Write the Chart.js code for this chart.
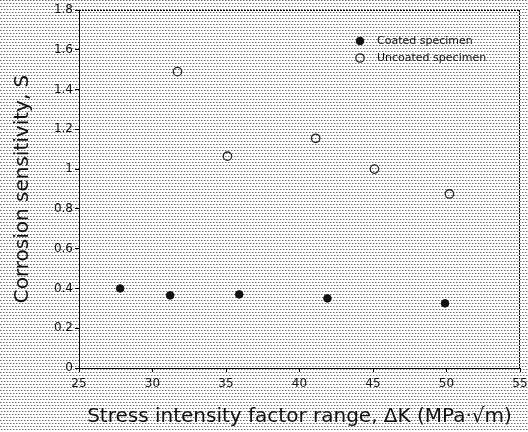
<!DOCTYPE html>
<html>
<head>
<meta charset="utf-8">
<script src="https://cdn.jsdelivr.net/npm/chart.js@4"></script>
<style>
  html, body { margin: 0; padding: 0; }
  body { width: 528px; height: 432px; overflow: hidden; }
  #wrap { width: 528px; height: 432px; }
</style>
</head>
<body>
<div id="wrap"><canvas id="chart" width="528" height="432"></canvas></div>
<script>
// values
const coatedDK = [27.8, 31.2, 35.9, 41.9, 49.9];
const coatedS = [0.40, 0.365, 0.37, 0.35, 0.325];
const uncoatedDK = [31.7, 35.1, 41.1, 45.1, 50.2];
const uncoatedS = [1.49, 1.065, 1.155, 1.0, 0.875];
const seriesNames = ['Coated specimen', 'Uncoated specimen'];

const FONT = '"DejaVu Sans", Verdana, sans-serif';

// halftone-looking background, like the scan
function makeScreen() {
    const c = document.createElement('canvas');
    c.width = 6; c.height = 6;
    const g = c.getContext('2d');
    g.fillStyle = '#ffffff';
    g.fillRect(0, 0, 6, 6);
    g.fillStyle = '#6a6a6a';
    [[0, 0], [3, 0], [1, 3], [4, 3]].forEach(([x, y]) => g.fillRect(x, y, 1, 1));
    g.fillStyle = '#bdbdbd';
    [[1, 0], [4, 0], [2, 3], [5, 3]].forEach(([x, y]) => g.fillRect(x, y, 1, 1));
    return c.toDataURL();
}
document.body.style.background = `url(${makeScreen()})`;

const toPoints = (xs, ys) => xs.map((x, i) => ({ x, y: ys[i] }));

const frameAndLegend = {
    id: 'frameAndLegend',
    afterDraw(chart) {
        const { ctx, chartArea: a } = chart;
        ctx.save();
        ctx.strokeStyle = '#000';
        ctx.lineWidth = 1;
        ctx.setLineDash([2, 1]);
        ctx.beginPath();
        ctx.moveTo(a.left, a.top + 0.5);
        ctx.lineTo(a.right, a.top + 0.5);
        ctx.moveTo(a.right - 0.5, a.top);
        ctx.lineTo(a.right - 0.5, a.bottom);
        ctx.stroke();
        ctx.setLineDash([]);

        // legend in upper right of the plot
        chart.data.datasets.forEach((ds, i) => {
            const y = 41 + i * 17;
            ctx.fillStyle = ds.backgroundColor;
            ctx.strokeStyle = ds.borderColor;
            ctx.lineWidth = ds.borderWidth;
            Chart.helpers.drawPoint(ctx, {
                pointStyle: ds.pointStyle,
                radius: ds.pointRadius,
                borderWidth: ds.borderWidth
            }, 360, y);
            ctx.font = `11px ${FONT}`;
            ctx.fillStyle = '#111';
            ctx.textBaseline = 'middle';
            ctx.fillText(ds.label, 377, y);
        });
        ctx.restore();
    }
};

new Chart(document.getElementById('chart'), {
    type: 'scatter',
    data: {
        datasets: [
            {
                label: seriesNames[0],
                data: toPoints(coatedDK, coatedS),
                pointStyle: 'circle',
                pointRadius: 3.8,
                backgroundColor: '#111',
                borderColor: '#111',
                borderWidth: 1
            },
            {
                label: seriesNames[1],
                data: toPoints(uncoatedDK, uncoatedS),
                pointStyle: 'circle',
                pointRadius: 4.2,
                backgroundColor: 'rgba(0,0,0,0)',
                borderColor: '#222',
                borderWidth: 1.3
            }
        ]
    },
    options: {
        responsive: false,
        animation: false,
        layout: { padding: { top: 10, right: 8, left: 0, bottom: 0 } },
        plugins: {
            legend: { display: false },
            tooltip: { enabled: false }
        },
        scales: {
            x: {
                type: 'linear',
                min: 25,
                max: 55,
                ticks: {
                    stepSize: 5,
                    color: '#111',
                    font: { size: 12, family: FONT },
                    padding: 5
                },
                grid: { drawOnChartArea: false, tickLength: 4, color: '#000' },
                border: { color: '#000', dash: [2, 1] },
                title: {
                    display: true,
                    text: 'Stress intensity factor range, \u0394K (MPa\u00b7\u221am)',
                    color: '#111',
                    font: { size: 20, family: FONT },
                    padding: { top: 0, bottom: 3 }
                },
                afterFit: s => {
                    s.height = 64;
                    s.paddingRight = 0;
                    s.paddingLeft = 0;
                }
            },
            y: {
                min: 0,
                max: 1.8,
                ticks: {
                    stepSize: 0.2,
                    color: '#111',
                    font: { size: 12, family: FONT },
                    padding: 2,
                    callback: v => String(Number(v.toFixed(1)))
                },
                grid: { drawOnChartArea: false, tickLength: 4, color: '#000' },
                border: { color: '#000', dash: [2, 1] },
                title: {
                    display: true,
                    text: 'Corrosion sensitivity, S',
                    color: '#111',
                    font: { size: 20, family: FONT },
                    padding: { top: 11, bottom: 0 }
                },
                afterFit: s => { s.width = 79; }
            }
        }
    },
    plugins: [frameAndLegend]
});
</script>
</body>
</html>
